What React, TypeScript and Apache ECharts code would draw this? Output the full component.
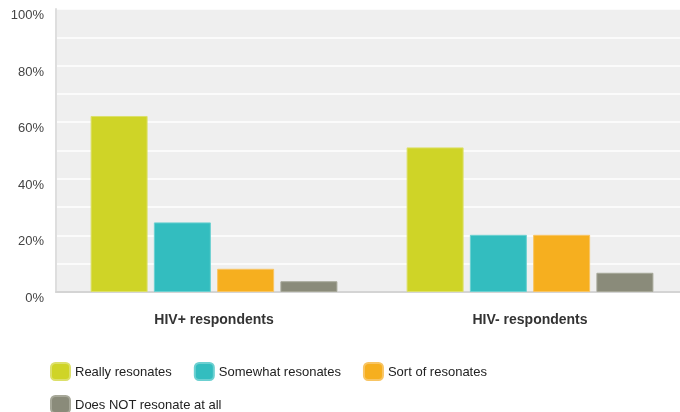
import React, { useEffect, useRef } from "react";
import * as echarts from "echarts";

const categories = ["HIV+ respondents", "HIV- respondents"];
const seriesNames = ["Really resonates", "Somewhat resonates", "Sort of resonates", "Does NOT resonate at all"];
const reallyValues = [62.2, 51.1];
const somewhatValues = [24.6, 20.2];
const sortOfValues = [8.2, 20.2];
const notValues = [3.8, 6.8];
const colors = ["#CFD427", "#33BDBF", "#F6AF1F", "#8A8B7A"];
const borderColors = ["#DCE06A", "#6CD0D1", "#F8C564", "#A7A899"];

const FONT = 'Arial, "Liberation Sans", sans-serif';

export default function App() {
  const ref = useRef<HTMLDivElement>(null);
  useEffect(() => {
    if (!ref.current) return;
    const chart = echarts.init(ref.current, null, { renderer: "svg" });
    const data = [reallyValues, somewhatValues, sortOfValues, notValues];
    const legendBase = {
      left: 50,
      padding: 0,
      itemWidth: 19,
      itemHeight: 17,
      itemGap: 22,
      icon: "roundRect",
      textStyle: { fontSize: 13, color: "#222", fontFamily: FONT },
    };
    chart.setOption({
      animation: false,
      textStyle: { fontFamily: FONT },
      grid: {
        left: 56,
        right: 0,
        top: 9,
        bottom: 120,
        show: true,
        backgroundColor: "#efefef",
        borderWidth: 0,
      },
      legend: [
        { ...legendBase, data: seriesNames.slice(0, 3), top: 362 },
        { ...legendBase, data: seriesNames.slice(3), top: 395 },
      ],
      xAxis: {
        type: "category",
        data: categories,
        axisLine: { show: true, lineStyle: { color: "#d4d4d4", width: 2 } },
        axisTick: { show: false },
        axisLabel: {
          fontSize: 14,
          fontWeight: "bold",
          color: "#333",
          margin: 20,
          fontFamily: FONT,
        },
      },
      yAxis: {
        type: "value",
        min: 0,
        max: 100,
        interval: 10,
        axisLine: { show: true, lineStyle: { color: "#dedede", width: 2 } },
        axisTick: { show: false },
        splitLine: { show: true, lineStyle: { color: "#ffffff", width: 1.5 } },
        axisLabel: {
          fontSize: 13,
          color: "#444",
          margin: 12,
          verticalAlign: "top",
          lineHeight: 11,
          fontFamily: FONT,
          formatter: (v: number) => (v % 20 === 0 ? v + "%" : ""),
        },
      },
      series: seriesNames.map((name, i) => ({
        name,
        type: "bar",
        data: data[i],
        barWidth: 57,
        barGap: "11%",
        itemStyle: { color: colors[i], borderColor: borderColors[i], borderWidth: 1 },
      })),
    });
    return () => chart.dispose();
  }, []);
  return (
    <div style={{ position: "fixed", left: 0, top: 0, width: 680, height: 412, overflow: "hidden" }}>
      <div ref={ref} style={{ width: 688, height: 412 }} />
    </div>
  );
}
